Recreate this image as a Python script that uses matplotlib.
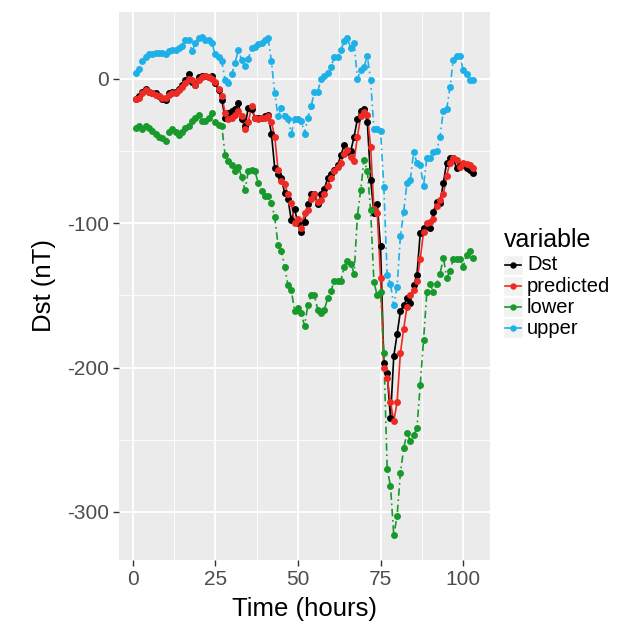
import matplotlib
matplotlib.use("Agg")
import matplotlib.pyplot as plt
from matplotlib.lines import Line2D
from matplotlib.patches import Rectangle

plt.rcParams['font.family'] = ['Liberation Sans', 'DejaVu Sans']
plt.rcParams['axes.unicode_minus'] = False

# hours 1..103
time_hours = list(range(1, 104))

dst = [-14, -12, -9, -7, -9, -10, -10, -12, -14, -15,
       -10, -9, -9, -7, -4, -1, 3, -2, -4, 1,
       2, 2, 1, 2, -3, -8, -15, -27, -24, -22,
       -21, -17, -28, -33, -20, -21, -27, -27, -27, -26,
       -25, -38, -62, -66, -69, -79, -83, -98, -90, -100,
       -106, -99, -87, -80, -80, -87, -80, -76, -69, -66,
       -63, -60, -53, -46, -51, -50, -40, -28, -22, -21,
       -30, -70, -93, -87, -116, -197, -204, -235, -192, -177,
       -161, -157, -152, -155, -143, -136, -107, -103, -102, -103,
       -92, -85, -86, -72, -58, -55, -55, -62, -60, -60,
       -62, -63, -65]

predicted = [-14, -13, -10, -8, -9, -10, -11, -12, -13, -13,
             -11, -10, -10, -8, -6, -3, 0, -1, -4, -1,
             1, 2, 1, 0, -2, -7, -12, -24, -28, -27,
             -25, -22, -26, -35, -30, -19, -27, -28, -27, -27,
             -26, -30, -40, -63, -71, -73, -80, -86, -100, -97,
             -103, -93, -91, -83, -80, -85, -84, -80, -74, -69,
             -64, -61, -58, -52, -49, -54, -57, -40, -26, -23,
             -25, -47, -90, -93, -138, -200, -207, -224, -237, -224,
             -190, -173, -158, -150, -146, -140, -125, -106, -100, -99,
             -97, -88, -84, -80, -67, -58, -55, -56, -61, -58,
             -59, -60, -62]

lower = [-34, -33, -35, -33, -34, -36, -38, -40, -41, -43,
         -37, -35, -37, -39, -37, -34, -33, -29, -27, -25,
         -29, -29, -27, -24, -30, -32, -33, -53, -57, -60,
         -64, -61, -68, -77, -64, -63, -64, -72, -78, -81,
         -81, -86, -96, -115, -119, -130, -143, -146, -161, -159,
         -162, -171, -157, -150, -150, -160, -162, -160, -152, -147,
         -140, -140, -140, -130, -126, -128, -135, -95, -77, -56,
         -64, -91, -141, -150, -148, -190, -270, -282, -316, -303,
         -273, -256, -245, -251, -247, -242, -212, -181, -148, -142,
         -148, -142, -135, -124, -138, -133, -125, -125, -125, -130,
         -122, -119, -124]

upper = [4, 7, 12, 15, 17, 17, 18, 18, 18, 17,
         19, 20, 20, 21, 23, 27, 27, 19, 25, 28,
         29, 27, 27, 25, 17, 15, 12, -1, -3, 3,
         11, 20, 13, 9, 14, 21, 22, 24, 25, 27,
         28, 12, -10, -26, -20, -26, -28, -38, -28, -28,
         -29, -38, -27, -19, -9, -9, 0, 2, 4, 8,
         15, 15, 20, 26, 28, 21, 25, 0, 6, 8,
         16, -1, -35, -35, -36, -75, -136, -142, -157, -144,
         -109, -92, -72, -70, -51, -58, -60, -74, -55, -55,
         -51, -50, -40, -22, -21, -6, 13, 16, 16, 6,
         3, -1, -1]

series_names = ['Dst', 'predicted', 'lower', 'upper']
series_values = [dst, predicted, lower, upper]
series_colors = ['black', '#EE2A24', '#17992B', '#1DB1E8']
dashdot = (0, (4.5, 2.2, 1.0, 2.2))
series_styles = ['-', '-', dashdot, dashdot]

fig = plt.figure(figsize=(6.23, 6.28), dpi=100)
W, H = 623, 628
ax = fig.add_axes([119 / W, 1 - 560 / H, (490 - 119) / W, (560 - 12) / H])
ax.set_facecolor('#EBEBEB')

for vals, col, ls in zip(series_values, series_colors, series_styles):
    ax.plot(time_hours, vals, color=col, linestyle=ls, lw=1.2, zorder=3)
for vals, col in zip(series_values, series_colors):
    ax.plot(time_hours, vals, linestyle='none', marker='o', ms=5,
            color=col, mec='none', zorder=4)

# ggplot-like expansion of 5%
allv = dst + predicted + lower + upper
ymin, ymax = min(allv), max(allv)
ypad = 0.05 * (ymax - ymin)
xpad = 0.05 * (time_hours[-1] - time_hours[0])
ax.set_xlim(time_hours[0] - xpad, time_hours[-1] + xpad)
ax.set_ylim(ymin - ypad, ymax + ypad)

ax.set_xticks([0, 25, 50, 75, 100])
ax.set_yticks([-300, -200, -100, 0])
ax.set_xticks([12.5, 37.5, 62.5, 87.5], minor=True)
ax.set_yticks([-250, -150, -50], minor=True)
ax.grid(True, which='major', color='white', lw=1.4)
ax.grid(True, which='minor', color='white', lw=0.6)
ax.set_axisbelow(True)
for s in ax.spines.values():
    s.set_visible(False)
ax.tick_params(which='major', direction='out', length=4, width=1,
               color='#333333', labelcolor='#4D4D4D', labelsize=15, pad=3)
ax.tick_params(which='minor', length=0)

ax.set_xlabel('Time (hours)', fontsize=18.5, labelpad=6)
ax.set_ylabel('Dst (nT)', fontsize=18.5, labelpad=8)

# legend drawn in ggplot style
fig.text(504 / W, 1 - 247 / H, 'variable', fontsize=18, ha='left', va='baseline')
item_y = [265, 286, 307, 328]
for name, col, yy in zip(series_names, series_colors, item_y):
    fy = 1 - yy / H
    fig.add_artist(Rectangle((503 / W, fy - 10 / H), 20 / W, 20 / H,
                             transform=fig.transFigure, facecolor='#F2F2F2',
                             edgecolor='white', lw=1))
    fig.add_artist(Line2D([505 / W, 521 / W], [fy, fy], transform=fig.transFigure,
                          color=col, lw=1.2))
    fig.add_artist(Line2D([513 / W], [fy], transform=fig.transFigure,
                          marker='o', ms=4.6, color=col, mec='none'))
    fig.text(527 / W, fy, name, fontsize=14.5, ha='left', va='center')

fig.savefig('out.png', dpi=100)
